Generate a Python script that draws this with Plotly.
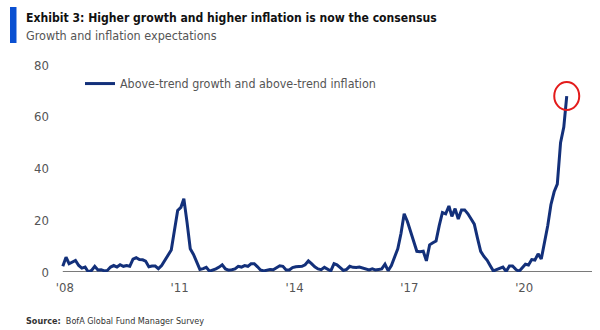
import pandas as pd
import plotly.graph_objects as go

# Monthly survey readings, Jan 2008 .. Mar 2021 (% of FMS respondents)
START_MONTH = "2008-01-01"
above_trend_both = [
    2.2, 5.7, 3.2, 3.8, 4.5, 2.5, 1.5, 1.9, 0.0, 0.6,
    2.2, 0.8, 0.9, 0.4, 0.6, 1.9, 2.5, 1.9, 2.8, 2.2,
    2.5, 2.2, 5.0, 5.5, 4.8, 4.7, 4.2, 2.0, 2.3, 2.3,
    1.3, 2.5, 4.5, 6.0, 8.5, 16.0, 23.8, 25.0, 28.3, 19.0,
    9.0, 6.8, 4.0, 1.0, 1.3, 1.8, 0.3, 0.6, 1.2, 1.9,
    2.8, 1.2, 0.7, 0.9, 1.2, 2.2, 1.9, 2.5, 2.2, 3.2,
    3.2, 2.0, 0.8, 0.4, 0.7, 1.0, 0.9, 1.7, 2.4, 2.2,
    0.8, 0.8, 1.7, 2.0, 2.2, 2.2, 2.8, 4.3, 3.2, 2.0,
    1.2, 0.9, 1.8, 1.0, 0.4, 3.2, 2.8, 1.7, 0.6, 1.0,
    2.2, 1.8, 1.7, 1.9, 1.5, 1.3, 0.8, 1.2, 0.8, 1.0,
    1.2, 3.0, 0.5, 2.5, 5.5, 9.0, 15.0, 22.5, 19.5, 15.5,
    11.5, 8.0, 7.8, 8.0, 4.3, 10.5, 11.3, 12.0, 18.0, 23.0,
    22.5, 25.5, 21.5, 24.5, 20.5, 24.0, 24.0, 22.5, 20.5, 18.5,
    13.0, 8.0, 6.0, 4.5, 2.5, 0.4, 0.9, 1.3, 1.9, 0.2,
    2.3, 2.3, 1.0, 0.2, 1.5, 3.0, 2.7, 4.8, 4.6, 7.0,
    5.0, 11.0, 18.0, 26.0, 31.0, 34.0, 50.0, 56.0, 68.0,
]
months = pd.date_range(START_MONTH, periods=len(above_trend_both), freq="MS")

SERIES_NAME = "Above-trend growth and above-trend inflation"
TITLE = "Exhibit 3: Higher growth and higher inflation is now the consensus"
SUBTITLE = "Growth and inflation expectations"
SOURCE = "<b>Source:</b>  BofA Global Fund Manager Survey"

x_tick_pos = ["2008-01-20", "2011-01-20", "2014-01-20", "2017-01-20", "2020-01-20"]
x_tick_text = ["'08", "'11", "'14", "'17", "'20"]
y_tick_vals = [0, 20, 40, 60, 80]
X_RANGE = ["2007-09-01", "2021-10-28"]

NAVY = "#13307A"
GREY_TXT = "#555555"
BODY_FONT = "Liberation Sans Narrow, DejaVu Sans Condensed, Arial Narrow, sans-serif"

W, H = 600, 330
ML, MR, MT, MB = 50, 8, 65, 58
PW, PH = W - ML - MR, H - MT - MB


def px_x(px):
    return (px - ML) / PW


def px_y(py):
    return (H - MB - py) / PH


fig = go.Figure()
fig.add_trace(go.Scatter(
    x=months, y=above_trend_both, mode="lines", name=SERIES_NAME,
    line=dict(color=NAVY, width=3), showlegend=True,
))

# baseline from the first observation to the axis end
fig.add_shape(type="line", xref="x", yref="y",
              x0=months[0], x1=X_RANGE[1], y0=0, y1=0,
              line=dict(color="#7a7a7a", width=2), layer="below")

# red circle on the latest observation
fig.add_shape(type="circle", xref="x", yref="y",
              xsizemode="pixel", ysizemode="pixel",
              xanchor=months[-1], yanchor=above_trend_both[-1],
              x0=-12.5, x1=12.5, y0=-14, y1=14,
              line=dict(color="#E31B1B", width=2))

# left accent bar for the title block
fig.add_shape(type="rect", xref="paper", yref="paper",
              x0=px_x(10), x1=px_x(16.5), y0=px_y(43), y1=px_y(7),
              fillcolor="#0A50D2", line=dict(width=0))

fig.update_layout(
    width=W, height=H,
    margin=dict(l=ML, r=MR, t=MT, b=MB),
    paper_bgcolor="white", plot_bgcolor="white",
    font=dict(family=BODY_FONT, size=13, color=GREY_TXT),
    showlegend=True,
    legend=dict(x=px_x(80), y=px_y(84), xanchor="left", yanchor="middle",
                bgcolor="rgba(0,0,0,0)", font=dict(size=12.4, color=GREY_TXT),
                itemwidth=30),
    xaxis=dict(type="date", range=X_RANGE, tickvals=x_tick_pos, ticktext=x_tick_text,
               showgrid=False, zeroline=False, showline=False, ticks="",
               ticklabelstandoff=6,
               tickfont=dict(size=13, color=GREY_TXT)),
    yaxis=dict(range=[0, 80], tickvals=y_tick_vals, showgrid=False, zeroline=False,
               showline=False, ticks="", ticklabelstandoff=0,
               tickfont=dict(size=13, color=GREY_TXT)),
)

fig.add_annotation(text=f"<b>{TITLE}</b>", xref="paper", yref="paper",
                   x=px_x(24), y=px_y(18), xanchor="left", yanchor="middle",
                   showarrow=False, font=dict(size=12.1, color="#111111", family=BODY_FONT))
fig.add_annotation(text=SUBTITLE, xref="paper", yref="paper",
                   x=px_x(24), y=px_y(35.5), xanchor="left", yanchor="middle",
                   showarrow=False, font=dict(size=12.5, color=GREY_TXT, family=BODY_FONT))
fig.add_annotation(text=SOURCE, xref="paper", yref="paper",
                   x=px_x(24), y=px_y(321), xanchor="left", yanchor="middle",
                   showarrow=False, font=dict(size=9, color="#333333", family=BODY_FONT))

fig.write_html("out.html")
